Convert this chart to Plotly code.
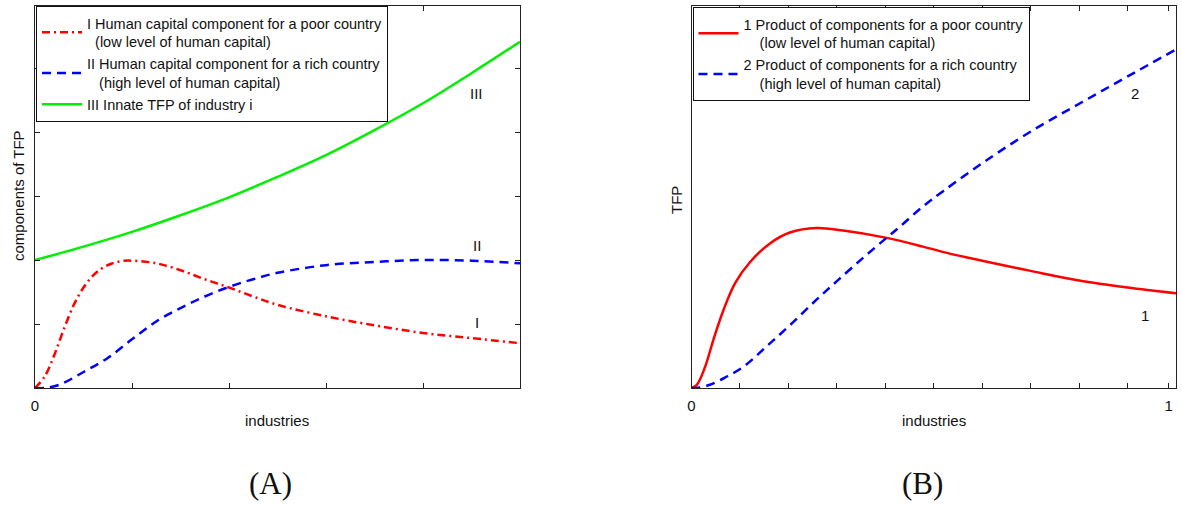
import plotly.graph_objects as go

# ---------------- data ----------------
# Panel A
a_red_x = [0, 0.02, 0.04, 0.06, 0.08, 0.1, 0.12, 0.14, 0.16, 0.18, 0.2, 0.25, 0.3, 0.35, 0.4, 0.45, 0.5, 0.6, 0.7, 0.8, 0.9, 1.0]
a_red_y = [0, 0.18, 0.52, 0.93, 1.30, 1.57, 1.76, 1.88, 1.95, 1.985, 1.99, 1.95, 1.84, 1.70, 1.57, 1.43, 1.30, 1.12, 0.98, 0.86, 0.78, 0.70]

a_blue_x = [0, 0.02, 0.05, 0.1, 0.15, 0.2, 0.25, 0.3, 0.35, 0.4, 0.45, 0.5, 0.6, 0.7, 0.8, 0.9, 1.0]
a_blue_y = [0, 0.0, 0.05, 0.25, 0.47, 0.76, 1.04, 1.25, 1.43, 1.58, 1.70, 1.80, 1.92, 1.97, 2.0, 1.99, 1.95]

a_green_x = [0, 0.1, 0.2, 0.3, 0.4, 0.5, 0.6, 0.7, 0.8, 0.9, 1.0]
a_green_y = [2.0, 2.21, 2.44, 2.70, 2.98, 3.30, 3.64, 4.03, 4.45, 4.92, 5.41]

# Panel B
b_red_x = [0, 0.011, 0.028, 0.045, 0.066, 0.09, 0.121, 0.162, 0.203, 0.258, 0.313, 0.4, 0.478, 0.533, 0.6, 0.7, 0.8, 0.9, 1.0]
b_red_y = [0, 0.05, 0.33, 0.75, 1.22, 1.64, 1.97, 2.26, 2.43, 2.50, 2.46, 2.35, 2.21, 2.10, 1.99, 1.83, 1.68, 1.57, 1.48]

b_blue_x = [0, 0.01, 0.038, 0.073, 0.107, 0.155, 0.203, 0.258, 0.3, 0.355, 0.4, 0.43, 0.475, 0.52, 0.609, 0.705, 0.802, 0.898, 1.0]
b_blue_y = [0, 0, 0.05, 0.18, 0.33, 0.65, 0.98, 1.38, 1.67, 2.04, 2.33, 2.52, 2.82, 3.08, 3.56, 4.03, 4.45, 4.86, 5.29]

a_names = [
    "I Human capital component for a poor country<br>\u00a0\u00a0(low level of human capital)",
    "II Human capital component for a rich country<br>\u00a0\u00a0\u00a0(high level of human capital)",
    "III Innate TFP of industry i",
]
b_names = [
    "1 Product of components for a poor country<br>\u00a0\u00a0\u00a0\u00a0(low level of human capital)",
    "2 Product of components for a rich country<br>\u00a0\u00a0\u00a0\u00a0(high level of human capital)",
]
a_curve_labels = ["I", "II", "III"]
a_label_pos = [(0.911, 1.03), (0.911, 2.23), (0.911, 4.61)]
b_curve_labels = ["1", "2"]
b_label_pos = [(0.936, 1.14), (0.915, 4.61)]

a_xticks = [0, 0.2, 0.4, 0.6, 0.8, 1.0]
a_xticktext = ["0", "", "", "", "", ""]
a_yticks = [1, 2, 3, 4, 5]
b_xticks = [0, 0.1, 0.2, 0.3, 0.4, 0.5, 0.6, 0.7, 0.8, 0.9, 0.985]
b_xticktext = ["0", "", "", "", "", "", "", "", "", "", "1"]

FONT = "Liberation Sans, Arial, sans-serif"
SERIF = "Liberation Serif, DejaVu Serif, serif"
FS = 15
LFS = 14.5
RED = "#ff0000"
BLUE = "#0000ff"
GREEN = "#00f000"

fig = go.Figure()

fig.add_trace(go.Scatter(x=a_red_x, y=a_red_y, mode="lines", name=a_names[0],
                         line=dict(color=RED, width=2.5, dash="8px,4px,2px,4px", shape="spline", smoothing=1),
                         xaxis="x", yaxis="y", legend="legend"))
fig.add_trace(go.Scatter(x=a_blue_x, y=a_blue_y, mode="lines", name=a_names[1],
                         line=dict(color=BLUE, width=2.5, dash="9px,6px", shape="spline", smoothing=1),
                         xaxis="x", yaxis="y", legend="legend"))
fig.add_trace(go.Scatter(x=a_green_x, y=a_green_y, mode="lines", name=a_names[2],
                         line=dict(color=GREEN, width=2.5, shape="spline", smoothing=1),
                         xaxis="x", yaxis="y", legend="legend"))

fig.add_trace(go.Scatter(x=b_red_x, y=b_red_y, mode="lines", name=b_names[0],
                         line=dict(color=RED, width=2.5, shape="spline", smoothing=1),
                         xaxis="x2", yaxis="y2", legend="legend2"))
fig.add_trace(go.Scatter(x=b_blue_x, y=b_blue_y, mode="lines", name=b_names[1],
                         line=dict(color=BLUE, width=2.5, dash="9px,6px", shape="spline", smoothing=1),
                         xaxis="x2", yaxis="y2", legend="legend2"))

W, H = 1182, 507


def px_x(p):
    return p / W


def px_y(p):
    return (H - p) / H


axis_common = dict(showline=True, linecolor="#222", linewidth=1.2, mirror="ticks",
                   ticks="inside", ticklen=5, tickcolor="#222", showgrid=False, zeroline=False,
                   automargin=False, tickfont=dict(family=FONT, size=FS, color="#111"))

legend_common = dict(xanchor="left", yanchor="top", bordercolor="#111", borderwidth=1,
                     bgcolor="white", font=dict(family=FONT, size=LFS, color="#111"),
                     tracegroupgap=0, itemwidth=40)

fig.update_layout(
    width=W, height=H, autosize=False,
    margin=dict(l=0, r=0, t=0, b=0, pad=0),
    paper_bgcolor="white", plot_bgcolor="white",
    font=dict(family=FONT, size=FS, color="#111"),
    xaxis=dict(domain=[px_x(35), px_x(520)], range=[0, 1], tickmode="array",
               tickvals=a_xticks, ticktext=a_xticktext, anchor="y", ticklabelstandoff=4,
               **axis_common),
    yaxis=dict(domain=[px_y(388), px_y(6)], range=[0, 5.97], tickmode="array",
               tickvals=a_yticks, ticktext=[""] * len(a_yticks), anchor="x", **axis_common),
    xaxis2=dict(domain=[px_x(691.5), px_x(1176)], range=[0, 1], tickmode="array",
                tickvals=b_xticks, ticktext=b_xticktext, anchor="y2", ticklabelstandoff=4,
                **axis_common),
    yaxis2=dict(domain=[px_y(388), px_y(6)], range=[0, 5.97], showline=True, linecolor="#222",
                linewidth=1.2, mirror=True, ticks="", showticklabels=False, showgrid=False,
                zeroline=False, automargin=False, anchor="x2"),
    legend=dict(x=px_x(36), y=px_y(6), **legend_common),
    legend2=dict(x=px_x(692.5), y=px_y(7), **legend_common),
    showlegend=True,
)

annotations = []
for t, (x, y) in zip(a_curve_labels, a_label_pos):
    annotations.append(dict(x=x, y=y, xref="x", yref="y", text=t, showarrow=False,
                            xanchor="center", yanchor="middle",
                            font=dict(family=FONT, size=FS, color="#111")))
for t, (x, y) in zip(b_curve_labels, b_label_pos):
    annotations.append(dict(x=x, y=y, xref="x2", yref="y2", text=t, showarrow=False,
                            xanchor="center", yanchor="middle",
                            font=dict(family=FONT, size=FS, color="#111")))

paper_texts = [
    ("industries", 277, 420, 0, FONT, FS),
    ("industries", 934, 420, 0, FONT, FS),
    ("components of TFP", 18, 196, -90, FONT, FS),
    ("TFP", 676, 200, -90, FONT, FS),
    ("(A)", 270, 483, 0, SERIF, 31),
    ("(B)", 922, 483, 0, SERIF, 31),
]
for t, x, y, ang, fam, size in paper_texts:
    annotations.append(dict(x=px_x(x), y=px_y(y), xref="paper", yref="paper", text=t,
                            showarrow=False, textangle=ang, xanchor="center", yanchor="middle",
                            font=dict(family=fam, size=size, color="#111")))
fig.update_layout(annotations=annotations)

post = ("document.body.style.margin='0';document.body.style.padding='0';"
        "document.body.style.overflow='hidden';"
        "Plotly.relayout('{plot_id}', {width: 1182, height: 507});")

fig.write_html("out.html", config={"responsive": False, "displayModeBar": False},
               post_script=post)
